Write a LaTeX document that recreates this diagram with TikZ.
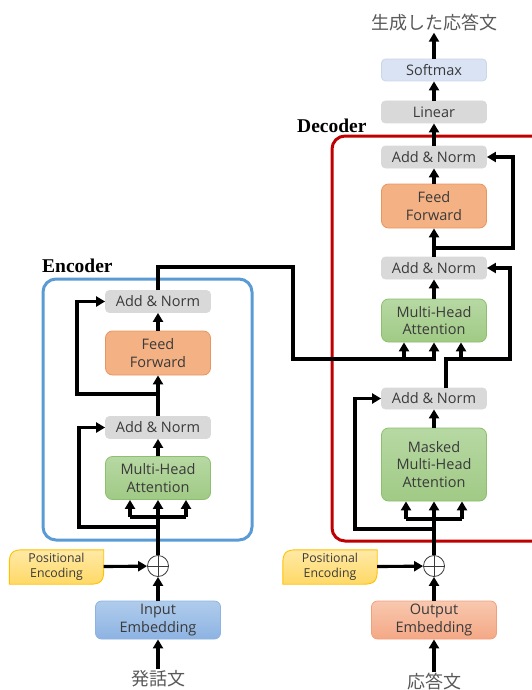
\documentclass[tikz,border=0pt]{standalone}
\usepackage{fontspec}
\setmainfont{Open Sans}
\newfontfamily\jpfont{Noto Sans CJK JP}
\newfontfamily\capfont{Liberation Serif}
\usetikzlibrary{arrows.meta,backgrounds}
\definecolor{tftext}{HTML}{3A3A3A}
\definecolor{tfjp}{HTML}{595959}
\definecolor{tfgray}{HTML}{D9D9D9}
\definecolor{tfsoft}{HTML}{DAE3F3}
\definecolor{tfsoftline}{HTML}{C9D7EC}
\definecolor{tfff}{HTML}{F4B183}
\definecolor{tfffline}{HTML}{E8955F}
\definecolor{tfattntop}{HTML}{B7D8A3}
\definecolor{tfattnbot}{HTML}{A0CA85}
\definecolor{tfattnline}{HTML}{8CC06C}
\definecolor{tfintop}{HTML}{B0CCEC}
\definecolor{tfinbot}{HTML}{8DB3E2}
\definecolor{tfinline}{HTML}{8DB3E2}
\definecolor{tfouttop}{HTML}{F8C8AF}
\definecolor{tfoutbot}{HTML}{F4A886}
\definecolor{tfoutline}{HTML}{F2A07C}
\definecolor{tfpetop}{HTML}{FFE9A6}
\definecolor{tfpebot}{HTML}{FFD966}
\definecolor{tfpeline}{HTML}{FFC000}
\definecolor{tfenc}{HTML}{5B9BD5}
\definecolor{tfdec}{HTML}{C00000}
\tikzset{
  tf picture/.style={
    x=1pt,
    y=-1pt,
    line join=miter
  },
  tf box/.style={
    rectangle,
    rounded corners=4pt,
    line width=0.8pt,
    align=center,
    inner sep=0pt,
    text=tftext,
    font=\fontsize{14.5}{17.5}\selectfont
  },
  tf norm/.style={
    tf box,
    fill=tfgray,
    draw=tfgray,
    minimum width=105pt,
    minimum height=22pt
  },
  tf feed/.style={
    tf box,
    rounded corners=7pt,
    fill=tfff,
    draw=tfffline,
    minimum width=105pt,
    minimum height=44pt
  },
  tf attn/.style={
    tf box,
    rounded corners=7pt,
    top color=tfattntop,
    bottom color=tfattnbot,
    draw=tfattnline,
    minimum width=105pt,
    minimum height=43pt
  },
  tf embed/.style={
    tf box,
    rounded corners=6pt,
    minimum width=125pt,
    minimum height=38pt
  },
  tf pe/.style={
    align=center,
    inner sep=0pt,
    minimum width=94pt,
    minimum height=34pt,
    text=tftext,
    font=\fontsize{12.3}{15}\selectfont
  },
  tf pe shape/.style={
    top color=tfpetop,
    bottom color=tfpebot,
    draw=tfpeline,
    line width=0.9pt
  },
  tf add/.style={
    circle,
    draw=tftext,
    line width=0.8pt,
    minimum size=21pt,
    inner sep=0pt,
    path picture={
      \draw[tftext, line width=0.8pt]
        (path picture bounding box.north) -- (path picture bounding box.south)
        (path picture bounding box.west) -- (path picture bounding box.east);
    }
  },
  tf line/.style={
    line width=3.1pt
  },
  tf arrow/.style={
    tf line,
    -{Triangle[length=9pt,width=10pt]}
  },
  tf frame/.style={
    line width=3pt,
    rounded corners=13pt
  },
  tf title/.style={
    font=\capfont\bfseries\fontsize{19.5}{20}\selectfont,
    inner sep=0pt
  },
  tf words/.style={
    font=\jpfont\fontsize{18}{20}\selectfont,
    text=tfjp,
    inner sep=1pt
  }
}
\newcommand\tfpeshape[1]{%
  \shadedraw[tf pe shape]
    (#1.north east) -- ([yshift=14pt]#1.south east)
    .. controls ([yshift=3pt]#1.south east) and ([xshift=-3pt]#1.south east) .. ([xshift=-14pt]#1.south east)
    -- (#1.south west) -- ([yshift=-14pt]#1.north west)
    .. controls ([yshift=-3pt]#1.north west) and ([xshift=3pt]#1.north west) .. ([xshift=14pt]#1.north west)
    -- cycle;}

\begin{document}
\begin{tikzpicture}[tf picture]
  \useasboundingbox (0,0) rectangle (532,690);

  \draw[tf frame, tfenc] (43,279) rectangle (252,540);
  \draw[tf frame, tfdec] (332,136) rectangle (548,541);
  \node[tf title, anchor=west] (enc_title) at (42,266) {Encoder};
  \node[tf title, anchor=west] (dec_title) at (297,126) {Decoder};

  \node[tf norm] (enc_an2) at (158,301.5) {Add \& Norm};
  \node[tf feed] (enc_ff) at (158,353) {Feed\\Forward};
  \node[tf norm] (enc_an1) at (158,427.5) {Add \& Norm};
  \node[tf attn] (enc_mha) at (158,478) {Multi-Head\\Attention};
  \node[tf add] (enc_add) at (158,566) {};
  \node[tf pe] (enc_pe) at (56.5,567) {Positional\\Encoding};
  \node[tf embed, top color=tfintop, bottom color=tfinbot, draw=tfinline] (enc_emb) at (158,620) {Input\\Embedding};
  \node[tf words] (enc_in) at (158,679) {発話文};

  \node[tf words] (dec_out) at (434,23) {生成した応答文};
  \node[tf norm, fill=tfsoft, draw=tfsoftline] (dec_soft) at (434,70) {Softmax};
  \node[tf norm] (dec_lin) at (434,112) {Linear};
  \node[tf norm] (dec_an3) at (434,157) {Add \& Norm};
  \node[tf feed] (dec_ff) at (434,206) {Feed\\Forward};
  \node[tf norm] (dec_an2) at (434,268) {Add \& Norm};
  \node[tf attn] (dec_mha) at (434,320.5) {Multi-Head\\Attention};
  \node[tf norm, minimum height=21pt] (dec_an1) at (434,398.5) {Add \& Norm};
  \node[tf attn, minimum height=73pt] (dec_mmha) at (434,464.5) {Masked\\Multi-Head\\Attention};
  \node[tf add] (dec_add) at (434,566) {};
  \node[tf pe] (dec_pe) at (330,567) {Positional\\Encoding};
  \node[tf embed, top color=tfouttop, bottom color=tfoutbot, draw=tfoutline] (dec_emb) at (434,620) {Output\\Embedding};
  \node[tf words] (dec_in) at (434,682) {応答文};

  \begin{scope}[on background layer]
    \tfpeshape{enc_pe}
    \tfpeshape{dec_pe}
  \end{scope}

  \coordinate (enc_split) at (158,517);
  \coordinate (enc_r1) at (158,527);
  \coordinate (enc_r2) at (158,394);
  \coordinate (enc_out) at (293,267);
  \coordinate (dec_kv) at (434,359);
  \coordinate (dec_q) at (510,359);
  \coordinate (dec_split) at (434,519);
  \coordinate (dec_r1) at (434,529);
  \coordinate (dec_r2) at (434,248);

  \draw[tf arrow] (enc_in) -- (enc_emb);
  \draw[tf arrow] (enc_emb) -- (enc_add);
  \draw[tf arrow] (enc_pe) -- (enc_add);
  \draw[tf arrow] (enc_add) -- (enc_mha);
  \draw[tf line] ([xshift=-28pt]enc_split) -- ([xshift=28pt]enc_split);
  \draw[tf arrow] ([xshift=-28pt]enc_split) -- ([xshift=-28pt]enc_mha.south);
  \draw[tf arrow] ([xshift=28pt]enc_split) -- ([xshift=28pt]enc_mha.south);
  \draw[tf arrow] (enc_r1) -- ++(-79,0) |- (enc_an1.west);
  \draw[tf arrow] (enc_mha) -- (enc_an1);
  \draw[tf arrow] (enc_an1) -- (enc_ff);
  \draw[tf arrow] (enc_r2) -- ++(-81,0) |- (enc_an2.west);
  \draw[tf arrow] (enc_ff) -- (enc_an2);
  \draw[tf arrow] (enc_an2.north) |- (enc_out) |- (dec_kv) -- (dec_mha.south);
  \draw[tf arrow] ([xshift=-30pt]dec_kv) -- ([xshift=-30pt]dec_mha.south);

  \draw[tf arrow] (dec_in) -- (dec_emb);
  \draw[tf arrow] (dec_emb) -- (dec_add);
  \draw[tf arrow] (dec_pe) -- (dec_add);
  \draw[tf arrow] (dec_add) -- (dec_mmha);
  \draw[tf line] ([xshift=-28pt]dec_split) -- ([xshift=28pt]dec_split);
  \draw[tf arrow] ([xshift=-28pt]dec_split) -- ([xshift=-28pt]dec_mmha.south);
  \draw[tf arrow] ([xshift=28pt]dec_split) -- ([xshift=28pt]dec_mmha.south);
  \draw[tf arrow] (dec_r1) -- ++(-79,0) |- (dec_an1.west);
  \draw[tf arrow] (dec_mmha) -- (dec_an1);
  \draw[tf arrow] ([xshift=12pt]dec_an1.north) |- (dec_q) |- (dec_an2.east);
  \draw[tf arrow] ([xshift=27pt]dec_kv) -- ([xshift=27pt]dec_mha.south);
  \draw[tf arrow] (dec_mha) -- (dec_an2);
  \draw[tf arrow] (dec_an2) -- (dec_ff);
  \draw[tf arrow] (dec_r2) -- ++(79,0) |- (dec_an3.east);
  \draw[tf arrow] (dec_ff) -- (dec_an3);
  \draw[tf arrow] (dec_an3) -- (dec_lin);
  \draw[tf arrow] (dec_lin) -- (dec_soft);
  \draw[tf arrow] (dec_soft) -- (dec_out);
\end{tikzpicture}
\end{document}
